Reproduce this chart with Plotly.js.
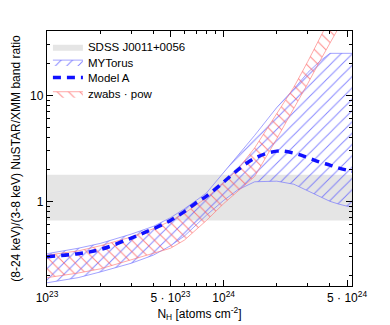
<!DOCTYPE html>
<html>
<head>
<meta charset="utf-8">
<script src="https://cdn.plot.ly/plotly-3.0.1.min.js"></script>
<style>
  html, body { margin: 0; padding: 0; background: #fff; }
  #plot { width: 390px; height: 325px; }
</style>
</head>
<body>
<div id="plot"></div>
<script>
// column density grid (atoms cm^-2)
var nh = [1e23, 1.5e23, 2e23, 3e23, 4e23, 5e23, 6e23, 7e23, 8e23, 1e24,
          1.2e24, 1.5e24, 2e24, 2.5e24, 3e24, 3.5e24, 4e24, 4.5e24, 5e24, 5.5e24];

// Model A band ratio
var modelA = [0.30, 0.32, 0.35, 0.45, 0.55, 0.66, 0.80, 0.97, 1.12, 1.52,
              1.97, 2.55, 2.98, 2.85, 2.58, 2.35, 2.2, 2.06, 1.97, 1.92];

// MYTorus envelope
var myTorusLow = [0.17, 0.19, 0.215, 0.26, 0.31, 0.38, 0.47, 0.60, 0.74, 1.02,
                  1.28, 1.53, 1.55, 1.45, 1.25, 1.1, 1.0, 0.94, 0.9, 0.88];
var myTorusHigh = [0.32, 0.36, 0.40, 0.49, 0.58, 0.70, 0.85, 1.02, 1.2, 1.9,
                   2.7, 4.2, 7.7, 11.5, 16.5, 21, 25, 25, 25, 25];

// zwabs*pow envelope
var zwabsLow = [0.19, 0.21, 0.23, 0.28, 0.32, 0.36, 0.43, 0.54, 0.66, 0.95,
                1.25, 1.72, 3.9, 7.5, 13, 21, 31, 44, 60, 80];
var zwabsHigh = [0.31, 0.34, 0.38, 0.46, 0.55, 0.65, 0.77, 0.92, 1.08, 1.5,
                 2.0, 3.2, 6.8, 12, 21, 35, 55, 80, 110, 150];

// observed ratio range for SDSS J0011+0056
var sdssRange = [0.66, 1.78];

var xTickVals = [1e23, 5e23, 1e24, 5e24];
var xTickText = ['10<sup>23</sup>', '5 · 10<sup>23</sup>', '10<sup>24</sup>', '5 · 10<sup>24</sup>'];
var xMinor = [2e23, 3e23, 4e23, 6e23, 7e23, 8e23, 9e23, 2e24, 3e24, 4e24];
var yTickVals = [1, 10];
var yTickText = ['1', '10'];
var yMinor = [0.2, 0.3, 0.4, 0.5, 0.6, 0.7, 0.8, 0.9, 2, 3, 4, 5, 6, 7, 8, 9, 20, 30, 40];

function band(lo, hi) {
  return {
    x: nh.concat(nh.slice().reverse()),
    y: lo.concat(hi.slice().reverse())
  };
}

var myB = band(myTorusLow, myTorusHigh);
var zwB = band(zwabsLow, zwabsHigh);

var sdss = {
  x: [5e22, 1e25, 1e25, 5e22],
  y: [sdssRange[0], sdssRange[0], sdssRange[1], sdssRange[1]],
  fill: 'toself', fillcolor: '#e5e5e5',
  mode: 'lines', line: {width: 0, color: '#e5e5e5'},
  name: 'SDSS J0011+0056', legend: 'legend', hoverinfo: 'skip'
};

var myTorus = {
  x: myB.x, y: myB.y,
  fill: 'toself', fillcolor: 'rgba(0,0,0,0)',
  fillpattern: {shape: '/', fgcolor: 'rgba(90,90,255,0.75)', bgcolor: 'rgba(0,0,0,0)', size: 8, solidity: 0.12},
  mode: 'lines', line: {width: 0.8, color: 'rgba(110,110,255,0.8)'},
  name: 'MYTorus', legend: 'legend2'
};

var zwabs = {
  x: zwB.x, y: zwB.y,
  fill: 'toself', fillcolor: 'rgba(0,0,0,0)',
  fillpattern: {shape: '\\', fgcolor: 'rgba(255,90,90,0.75)', bgcolor: 'rgba(0,0,0,0)', size: 8, solidity: 0.12},
  mode: 'lines', line: {width: 0.8, color: 'rgba(255,120,120,0.8)'},
  name: 'zwabs · pow', legend: 'legend4'
};

var model = {
  x: nh, y: modelA,
  mode: 'lines', line: {color: '#1010ff', width: 3.5, dash: '8px,6px', shape: 'spline'},
  name: 'Model A', legend: 'legend3'
};

function leg(y) {
  return {x: 0.003, y: y, xanchor: 'left', yanchor: 'middle', bgcolor: 'rgba(255,255,255,0)',
          font: {size: 11.5}, borderwidth: 0};
}

var layout = {
  width: 390, height: 325,
  margin: {l: 47, r: 38, t: 31, b: 37},
  paper_bgcolor: '#fff', plot_bgcolor: '#fff',
  font: {family: 'Liberation Sans, Arial, sans-serif', size: 12, color: '#000'},
  showlegend: true,
  legend: leg(0.938),
  legend2: leg(0.878),
  legend3: leg(0.818),
  legend4: leg(0.754),
  xaxis: {
    type: 'log', range: [23, 24.727],
    tickvals: xTickVals, ticktext: xTickText,
    ticks: 'inside', ticklen: 6, tickcolor: '#000',
    minor: {tickvals: xMinor, ticks: 'inside', ticklen: 3, tickcolor: '#000'},
    showline: true, linecolor: '#000', linewidth: 1.2, mirror: 'allticks',
    showgrid: false, zeroline: false, automargin: true,
    title: {text: 'N<sub>H</sub> [atoms cm<sup>-2</sup>]', font: {size: 12}, standoff: 0}
  },
  yaxis: {
    type: 'log', range: [-0.8, 1.609],
    tickvals: yTickVals, ticktext: yTickText,
    ticks: 'inside', ticklen: 6, tickcolor: '#000',
    minor: {tickvals: yMinor, ticks: 'inside', ticklen: 3, tickcolor: '#000'},
    showline: true, linecolor: '#000', linewidth: 1.2, mirror: 'allticks',
    showgrid: false, zeroline: false,
    title: {text: '(8-24 keV)/(3-8 keV) NuSTAR/XMM band ratio', font: {size: 12}, standoff: 6}
  }
};

Plotly.newPlot('plot', [sdss, myTorus, zwabs, model], layout, {displayModeBar: false, staticPlot: true});
</script>
</body>
</html>
